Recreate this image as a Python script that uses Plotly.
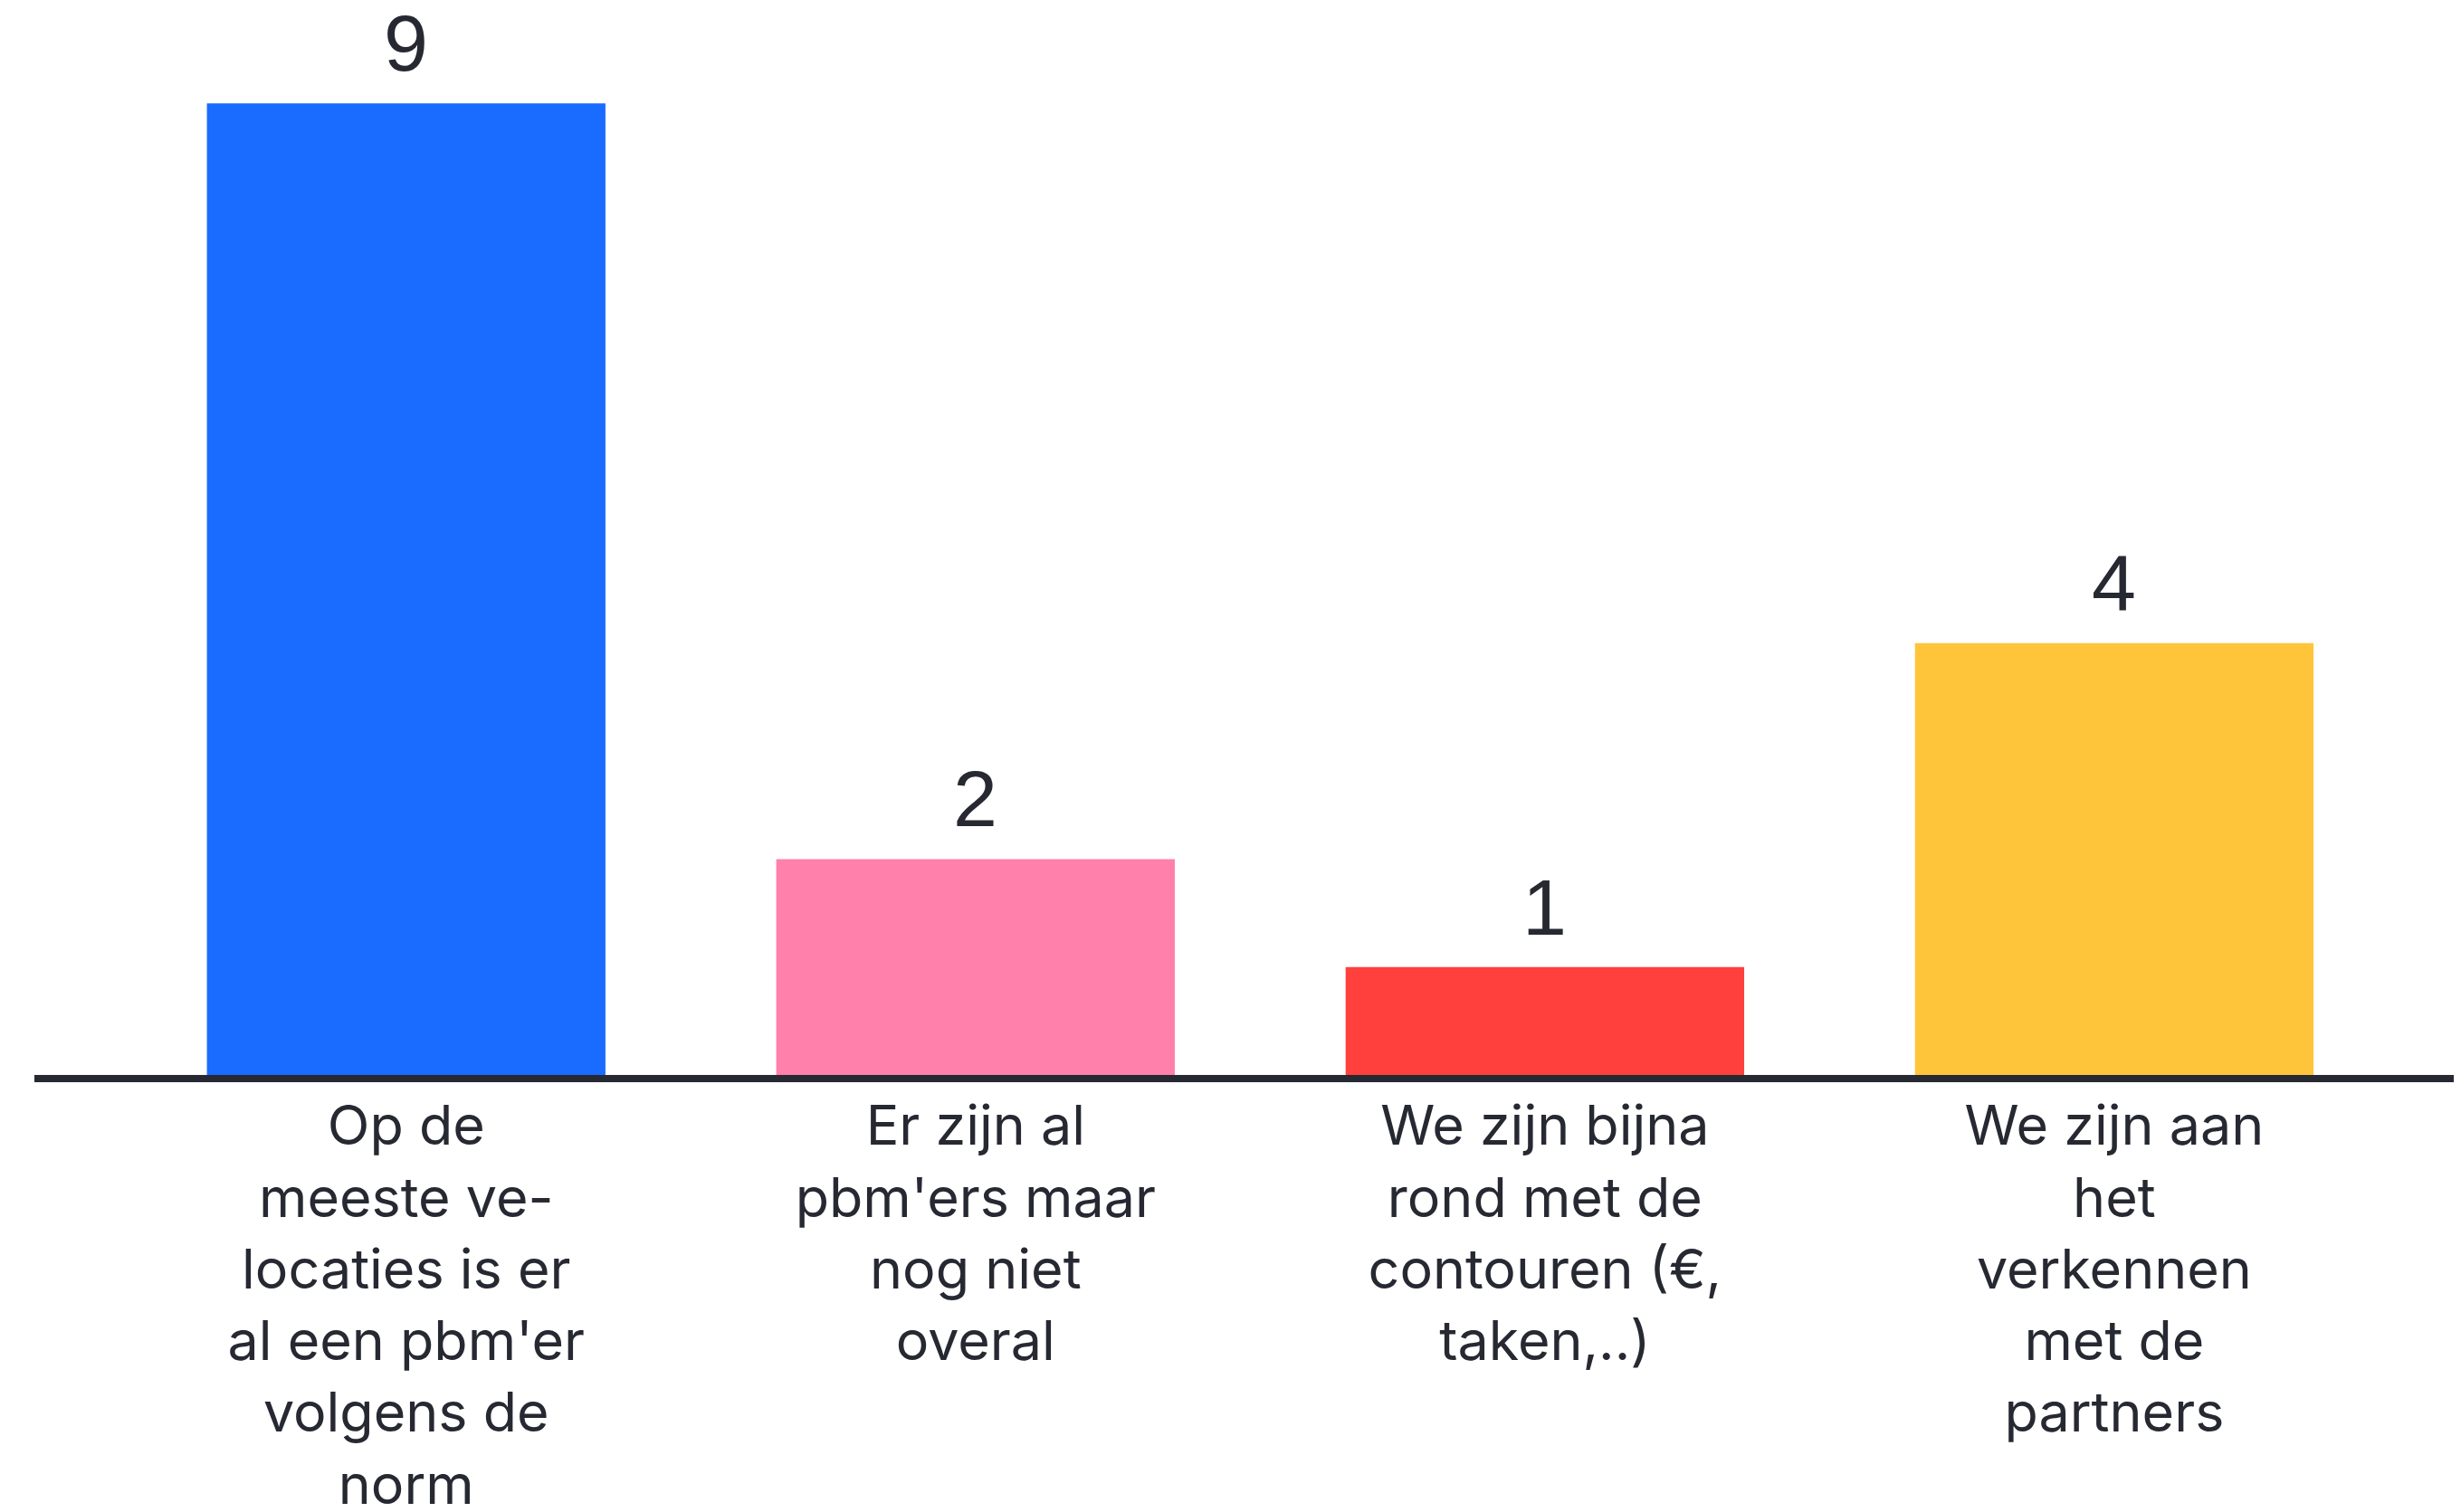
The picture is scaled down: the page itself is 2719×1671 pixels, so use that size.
import plotly.graph_objects as go

categories = [
    "Op de<br>meeste ve-<br>locaties is er<br>al een pbm'er<br>volgens de<br>norm",
    "Er zijn al<br>pbm'ers maar<br>nog niet<br>overal",
    "We zijn bijna<br>rond met de<br>contouren (€,<br>taken,..)",
    "We zijn aan<br>het<br>verkennen<br>met de<br>partners",
]
values = [9, 2, 1, 4]
colors = ["#196CFF", "#FF80AB", "#FF403D", "#FFC53A"]

TEXT = "#272932"

fig = go.Figure()
fig.add_trace(go.Bar(
    x=list(range(len(categories))),
    y=values,
    marker=dict(color=colors, line=dict(width=0)),
    width=0.7,
    hoverinfo="skip",
))

for i, v in enumerate(values):
    fig.add_annotation(
        x=i, y=v, text=str(v), showarrow=False,
        yanchor="bottom", xanchor="center", yshift=15,
        font=dict(family="Liberation Sans, Arial, sans-serif", size=88, color=TEXT),
    )

fig.update_layout(
    width=2711, height=1663, autosize=False,
    margin=dict(l=30, r=0, t=0, b=483),
    paper_bgcolor="white", plot_bgcolor="white",
    showlegend=False,
    xaxis=dict(
        tickmode="array",
        tickvals=list(range(len(categories))),
        ticktext=categories,
        range=[-0.653, 3.609],
        showgrid=False, zeroline=False,
        showline=True, linecolor=TEXT, linewidth=8,
        ticks="", ticklabelstandoff=-4,
        automargin=False,
        tickfont=dict(family="Inter, sans-serif", size=61, color=TEXT),
        fixedrange=True,
    ),
    yaxis=dict(
        range=[0, 9.89],
        visible=False, showgrid=False, zeroline=False,
        automargin=False,
        fixedrange=True,
    ),
)

fig.write_html("out.html")
